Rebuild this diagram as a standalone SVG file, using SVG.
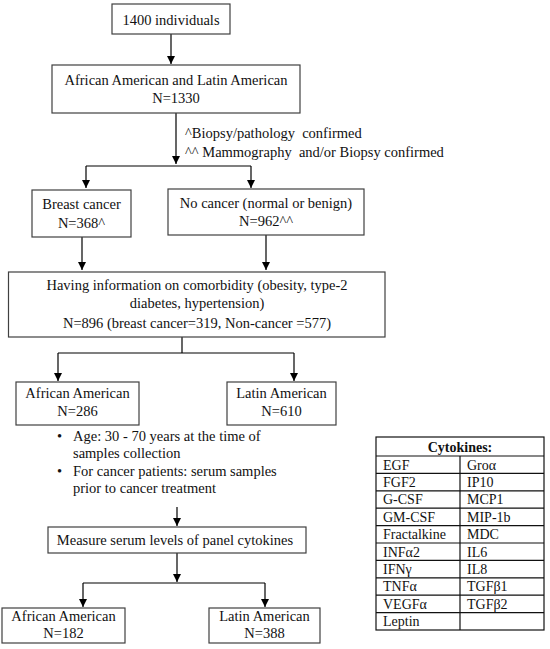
<svg xmlns="http://www.w3.org/2000/svg" width="550" height="649" viewBox="0 0 550 649">
<defs>
<marker id="arr" markerUnits="userSpaceOnUse" markerWidth="8" markerHeight="8" refX="8" refY="4" orient="auto">
<path d="M0,0 L8,4 L0,8 z" fill="#000"/>
</marker>
<style>
.box{fill:#fff;stroke:#404040;stroke-width:1.2}
.t{font-family:"Liberation Serif","Times New Roman",serif;font-size:14.5px;fill:#111}
.c{text-anchor:middle}
.tb{font-family:"Liberation Serif","Times New Roman",serif;font-size:14px;fill:#111}
.con path{fill:none;stroke:#000;stroke-width:1.2}
.grid{stroke:#111;stroke-width:1.2;fill:none}
</style>
</defs>
<rect width="550" height="649" fill="#fff"/>

<g id="connectors" class="con">
<path d="M171,34 V64" marker-end="url(#arr)"/>
<path d="M176,113 V164" marker-end="url(#arr)"/>
<path d="M86,166 H251"/>
<path d="M86,166 V188" marker-end="url(#arr)"/>
<path d="M251,166 V188" marker-end="url(#arr)"/>
<path d="M82,237 V270" marker-end="url(#arr)"/>
<path d="M266,235 V270" marker-end="url(#arr)"/>
<path d="M182,337 V353"/>
<path d="M58,353 H294"/>
<path d="M58,353 V381" marker-end="url(#arr)"/>
<path d="M294,353 V381" marker-end="url(#arr)"/>
<path d="M177,507 V526" marker-end="url(#arr)"/>
<path d="M177,553 V582" marker-end="url(#arr)"/>
<path d="M83,583 H265"/>
<path d="M83,583 V607" marker-end="url(#arr)"/>
<path d="M265,583 V607" marker-end="url(#arr)"/>
</g>

<g id="n1400">
<rect class="box" x="112" y="4" width="118" height="30"/>
<text class="t c" x="171" y="25">1400 individuals</text>
</g>

<g id="nAALA">
<rect class="box" x="52" y="65" width="248" height="48"/>
<text class="t c" x="176" y="85">African American and Latin American</text>
<text class="t c" x="176" y="103">N=1330</text>
</g>

<g id="notes">
<text class="t" x="185" y="138" xml:space="preserve">^Biopsy/pathology  confirmed</text>
<text class="t" x="185" y="157" xml:space="preserve">^^ Mammography  and/or Biopsy confirmed</text>
</g>

<g id="nBreast">
<rect class="box" x="32" y="190" width="99" height="47"/>
<text class="t c" x="81.5" y="208.5">Breast cancer</text>
<text class="t c" x="81.5" y="228">N=368^</text>
</g>

<g id="nNoCancer">
<rect class="box" x="168" y="189" width="196" height="46"/>
<text class="t c" x="266" y="207.5">No cancer (normal or benign)</text>
<text class="t c" x="266" y="226">N=962^^</text>
</g>

<g id="nComorb">
<rect class="box" x="8.5" y="272" width="376.5" height="65"/>
<text class="t c" x="197" y="289.5">Having information on comorbidity (obesity, type-2</text>
<text class="t c" x="197" y="308">diabetes, hypertension)</text>
<text class="t c" x="197" y="327.5">N=896 (breast cancer=319, Non-cancer =577)</text>
</g>

<g id="nAA286">
<rect class="box" x="16" y="382" width="123" height="43"/>
<text class="t c" x="77.5" y="398">African American</text>
<text class="t c" x="77.5" y="416">N=286</text>
</g>

<g id="nLA610">
<rect class="box" x="227" y="382" width="109" height="43"/>
<text class="t c" x="281.5" y="398">Latin American</text>
<text class="t c" x="281.5" y="416">N=610</text>
</g>

<g id="criteria">
<text class="t" x="57" y="440.5">•</text>
<text class="t" x="73" y="440.5">Age: 30 - 70 years at the time of</text>
<text class="t" x="73" y="458">samples collection</text>
<text class="t" x="57" y="476">•</text>
<text class="t" x="73" y="476">For cancer patients: serum samples</text>
<text class="t" x="73" y="493">prior to cancer treatment</text>
</g>

<g id="nMeasure">
<rect class="box" x="48" y="527" width="258" height="26"/>
<text class="t c" x="175" y="544.5">Measure serum levels of panel cytokines</text>
</g>

<g id="nAA182">
<rect class="box" x="2" y="608" width="123" height="35"/>
<text class="t c" x="63.5" y="621">African American</text>
<text class="t c" x="63.5" y="638">N=182</text>
</g>

<g id="nLA388">
<rect class="box" x="209" y="608" width="111" height="35"/>
<text class="t c" x="264.5" y="621">Latin American</text>
<text class="t c" x="264.5" y="638">N=388</text>
</g>

<g id="cytokines">
<rect class="grid" x="376" y="437" width="168" height="193"/>
<path class="grid" d="M376,456 H544 M376,473.4 H544 M376,490.8 H544 M376,508.2 H544 M376,525.6 H544 M376,543 H544 M376,560.4 H544 M376,577.8 H544 M376,595.2 H544 M376,612.6 H544 M460,456 V630"/>
<text class="tb c" x="460" y="451.5" font-weight="bold">Cytokines:</text>
<text class="tb" x="383" y="469.5">EGF</text><text class="tb" x="467" y="469.5">Groα</text>
<text class="tb" x="383" y="486.9">FGF2</text><text class="tb" x="467" y="486.9">IP10</text>
<text class="tb" x="383" y="504.3">G-CSF</text><text class="tb" x="467" y="504.3">MCP1</text>
<text class="tb" x="383" y="521.7">GM-CSF</text><text class="tb" x="467" y="521.7">MIP-1b</text>
<text class="tb" x="383" y="539.1">Fractalkine</text><text class="tb" x="467" y="539.1">MDC</text>
<text class="tb" x="383" y="556.5">INFα2</text><text class="tb" x="467" y="556.5">IL6</text>
<text class="tb" x="383" y="573.9">IFNγ</text><text class="tb" x="467" y="573.9">IL8</text>
<text class="tb" x="383" y="591.3">TNFα</text><text class="tb" x="467" y="591.3">TGFβ1</text>
<text class="tb" x="383" y="608.7">VEGFα</text><text class="tb" x="467" y="608.7">TGFβ2</text>
<text class="tb" x="383" y="626.1">Leptin</text>
</g>
</svg>
